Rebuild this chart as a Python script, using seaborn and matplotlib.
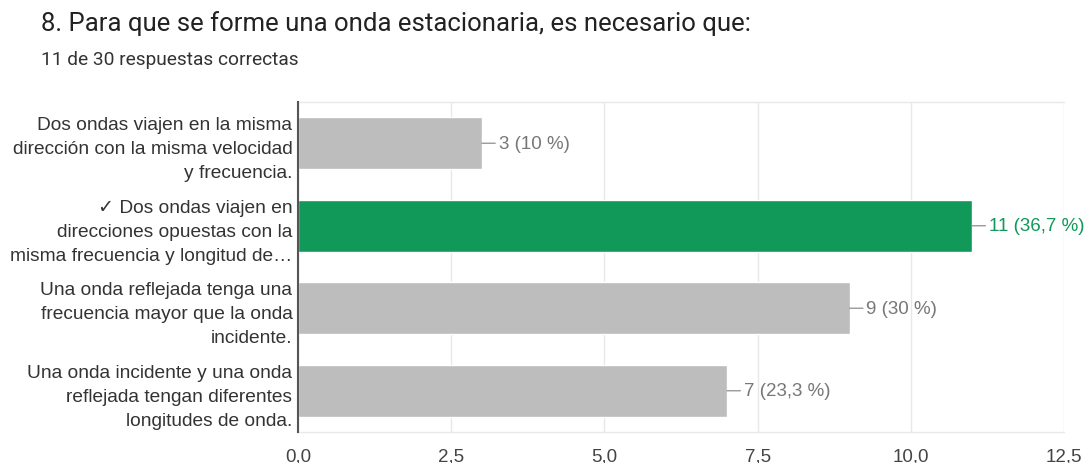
import matplotlib
matplotlib.use("Agg")
import matplotlib.pyplot as plt
import seaborn as sns
import pandas as pd
from matplotlib.ticker import FixedLocator, FuncFormatter

# Survey results
options = [
    "Dos ondas viajen en la misma\ndirección con la misma velocidad\ny frecuencia.",
    "✓ Dos ondas viajen en\ndirecciones opuestas con la\nmisma frecuencia y longitud de…",
    "Una onda reflejada tenga una\nfrecuencia mayor que la onda\nincidente.",
    "Una onda incidente y una onda\nreflejada tengan diferentes\nlongitudes de onda.",
]
counts = [3, 11, 9, 7]
value_labels = ["3 (10 %)", "11 (36,7 %)", "9 (30 %)", "7 (23,3 %)"]
correct = [False, True, False, False]
x_ticks = [0.0, 2.5, 5.0, 7.5, 10.0, 12.5]

title = "8. Para que se forme una onda estacionaria, es necesario que:"
subtitle = "11 de 30 respuestas correctas"

GREEN = "#11995a"
GREY_BAR = "#bdbdbd"
GRID = "#e8e8e8"

sns.set_theme(style="white")
plt.rcParams["font.family"] = ["Liberation Sans", "DejaVu Sans"]

df = pd.DataFrame({"option": options, "count": counts})
colors = [GREEN if c else GREY_BAR for c in correct]

fig = plt.figure(figsize=(10.92, 4.64), dpi=100)
ax = fig.add_axes([298 / 1092, 1 - 433 / 464, (1064 - 298) / 1092, (433 - 103) / 464])

sns.barplot(data=df, x="count", y="option", hue="option", palette=colors,
            legend=False, orient="h", width=0.63, ax=ax, saturation=1)

ax.set_xlim(0, 12.5)
ax.xaxis.set_major_locator(FixedLocator(x_ticks))
ax.xaxis.set_major_formatter(FuncFormatter(lambda v, p: f"{v:.1f}".replace(".", ",")))
ax.grid(axis="x", color=GRID, linewidth=1)
ax.set_axisbelow(True)
ax.set_xlabel("")
ax.set_ylabel("")
ax.spines["right"].set_visible(False)
for s in ["top", "bottom"]:
    ax.spines[s].set_color(GRID)
    ax.spines[s].set_linewidth(1)
ax.spines["left"].set_color("#555555")
ax.spines["left"].set_linewidth(1.5)
ax.spines["left"].set_zorder(3)
ax.tick_params(axis="x", length=0, labelsize=13.5, labelcolor="#444444", pad=11)
ax.tick_params(axis="y", length=0, labelsize=13.8, labelcolor="#333333", pad=4)
for lbl in ax.get_yticklabels():
    lbl.set_horizontalalignment("right")
    lbl.set_linespacing(1.55)

# Value labels with short leader lines
for i, (v, txt, ok) in enumerate(zip(counts, value_labels, correct)):
    col = GREEN if ok else "#777777"
    ax.annotate(txt, xy=(v, i), xytext=(12, 0), textcoords="offset points",
                va="center", ha="left", fontsize=13.5, color=col,
                arrowprops=dict(arrowstyle="-", color="#999999", lw=1,
                                shrinkA=0, shrinkB=0, relpos=(0, 0.5)))

fig.text(41 / 1092, 1 - 24 / 464, title, fontsize=18.5, color="#222222",
         family=["Roboto", "DejaVu Sans"], va="center", ha="left")
fig.text(41 / 1092, 1 - 60 / 464, subtitle, fontsize=13.8, color="#333333",
         family=["Roboto", "DejaVu Sans"], va="center", ha="left")

fig.savefig("out.png", dpi=100)
